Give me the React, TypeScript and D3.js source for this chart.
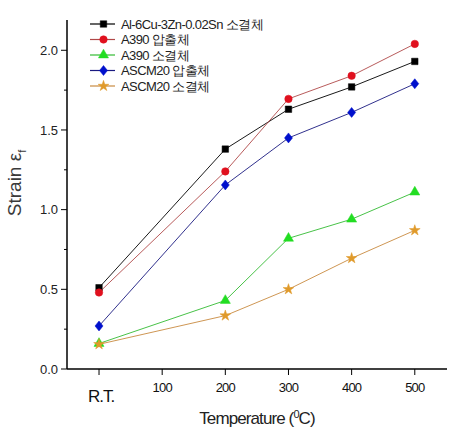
import React from "react";
import * as d3 from "d3";

const temps = [0, 200, 300, 400, 500];
const seriesNames = [
  "Al-6Cu-3Zn-0.02Sn 소결체",
  "A390 압출체",
  "A390 소결체",
  "ASCM20 압출체",
  "ASCM20 소결체",
];
const alCuZnSintered = [0.51, 1.38, 1.63, 1.77, 1.93];
const a390Extruded = [0.48, 1.24, 1.695, 1.84, 2.04];
const a390Sintered = [0.16, 0.43, 0.82, 0.94, 1.11];
const ascm20Extruded = [0.27, 1.155, 1.45, 1.61, 1.79];
const ascm20Sintered = [0.155, 0.335, 0.5, 0.695, 0.87];
const seriesColors = ["#000000", "#e0101e", "#22dd22", "#0010cc", "#e09a2a"];
const lineColors = ["#000000", "#b04848", "#33bb33", "#1a1a80", "#c88a40"];
const markerTypes = ["square", "circle", "triangle", "diamond", "star"];
const xTickValues = [0, 100, 200, 300, 400, 500];
const xTickLabels = ["R.T.", "100", "200", "300", "400", "500"];
const yTickValues = [0, 0.5, 1.0, 1.5, 2.0];
const yMinorTicks = [0.25, 0.75, 1.25, 1.75];

const W = 454;
const H = 440;

function Marker({ type, x, y, color }: { type: string; x: number; y: number; color: string }) {
  let p: string | null = "";
  if (type === "diamond") {
    p = "M0,-5L4,0L0,5L-4,0Z";
  } else {
    const symMap: Record<string, any> = {
      square: d3.symbolSquare,
      circle: d3.symbolCircle,
      triangle: d3.symbolTriangle,
      star: d3.symbolStar,
    };
    const sizes: Record<string, number> = { square: 42, circle: 44, triangle: 44, star: 36 };
    p = d3.symbol().type(symMap[type]).size(sizes[type])();
  }
  return <path d={p || ""} transform={`translate(${x},${y})`} fill={color} stroke={color} strokeWidth={0.5} />;
}

export default function App() {
  const x = d3.scaleLinear().domain([-50.7, 551]).range([67, 447]);
  const y = d3.scaleLinear().domain([0, 2.19]).range([369, 20]);
  const data = [alCuZnSintered, a390Extruded, a390Sintered, ascm20Extruded, ascm20Sintered];
  const line = d3
    .line<number>()
    .x((_, i) => x(temps[i]))
    .y((d) => y(d));
  const narrow = "'Liberation Sans Narrow', 'Arial Narrow', 'Liberation Sans', Arial, sans-serif";
  const sans = "'Liberation Sans', Arial, sans-serif";
  const legendY = [24, 39.5, 55, 70.5, 86];
  return (
    <svg width={W} height={H} style={{ position: "absolute", left: 0, top: 0, background: "#fff" }}>
      <rect x={0} y={0} width={W} height={H} fill="#fff" />
      {data.map((vals, si) => (
        <path key={"l" + si} d={line(vals) || ""} fill="none" stroke={lineColors[si]} strokeWidth={0.9} />
      ))}
      {data.map((vals, si) =>
        vals.map((v, i) => (
          <Marker key={`m${si}-${i}`} type={markerTypes[si]} x={x(temps[i])} y={y(v)} color={seriesColors[si]} />
        ))
      )}
      <line x1={67} x2={67} y1={y.range()[1]} y2={369} stroke="#000" strokeWidth={1.5} />
      <line x1={67} x2={447} y1={369} y2={369} stroke="#000" strokeWidth={1.5} />
      {yTickValues.map((v) => (
        <g key={"yt" + v}>
          <line x1={61} x2={67} y1={y(v)} y2={y(v)} stroke="#000" strokeWidth={1} />
          <text x={58} y={y(v)} dy="0.35em" textAnchor="end" fontFamily={sans} fontSize={13} fill="#222">
            {v.toFixed(1)}
          </text>
        </g>
      ))}
      {yMinorTicks.map((v) => (
        <line key={"ym" + v} x1={64} x2={67} y1={y(v)} y2={y(v)} stroke="#000" strokeWidth={1} />
      ))}
      {xTickValues.map((v, i) => (
        <g key={"xt" + v}>
          <line x1={x(v)} x2={x(v)} y1={369} y2={375} stroke="#000" strokeWidth={1} />
          {i === 0 ? (
            <text x={x(v) + 2} y={402} textAnchor="middle" fontFamily={sans} fontSize={17} letterSpacing={-1} fill="#111">
              {xTickLabels[i]}
            </text>
          ) : (
            <text x={x(v)} y={392} textAnchor="middle" fontFamily={narrow} fontSize={13} letterSpacing={-0.8} fill="#111">
              {xTickLabels[i]}
            </text>
          )}
        </g>
      ))}
      <text x={257} y={424} textAnchor="middle" fontFamily={narrow} fontSize={17} letterSpacing={-0.9} fill="#222">
        Temperature (<tspan dy={-6} fontSize={11}>0</tspan>
        <tspan dy={6}>C)</tspan>
      </text>
      <text
        transform={`translate(21,183) rotate(-90)`}
        textAnchor="middle"
        fontFamily={sans}
        fontSize={19}
        fill="#3a3a3a"
      >
        Strain ε<tspan dy={5} fontSize={11}>f</tspan>
      </text>
      {seriesNames.map((n, i) => (
        <g key={"lg" + i}>
          <line x1={90} x2={115} y1={legendY[i]} y2={legendY[i]} stroke={lineColors[i]} strokeWidth={1.2} />
          <Marker type={markerTypes[i]} x={103.5} y={legendY[i]} color={seriesColors[i]} />
          <text x={121} y={legendY[i]} dy="0.36em" fontFamily={narrow} fontSize={13} letterSpacing={-0.6} fill="#222">
            {n}
          </text>
        </g>
      ))}
    </svg>
  );
}
